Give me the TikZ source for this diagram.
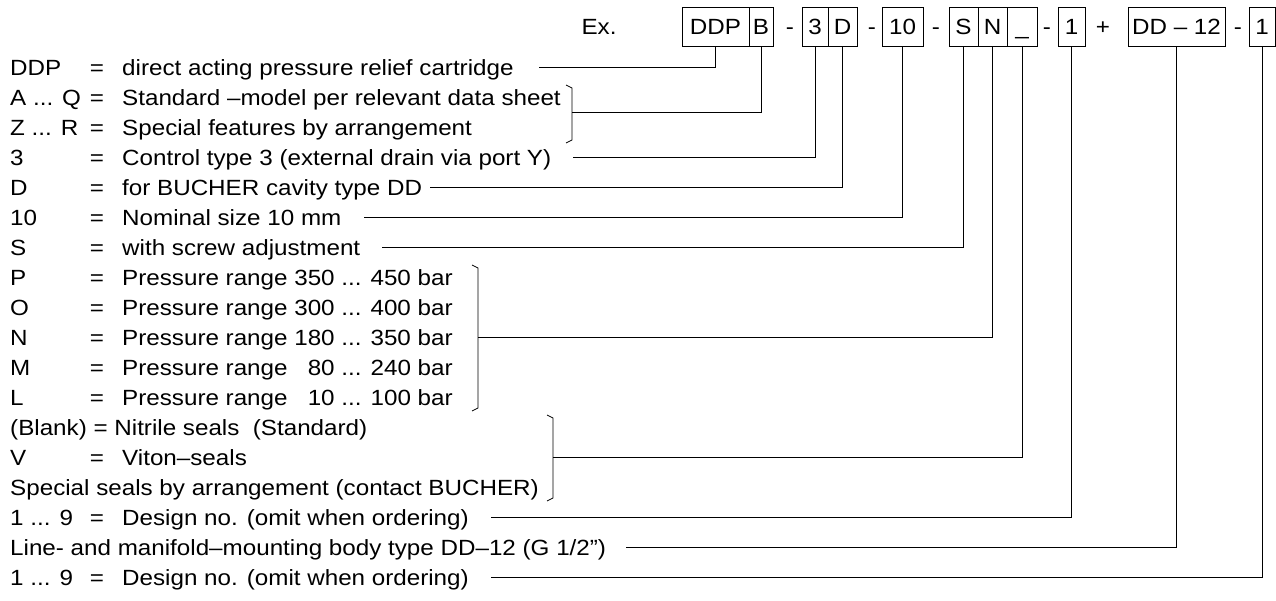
\documentclass[tikz,border=0pt]{standalone}
\usepackage{fontspec}
\setmainfont{Liberation Sans}[FakeStretch=1.1]
\begin{document}
\begin{tikzpicture}[x=1pt, y=-1pt,
		every node/.style={font=\fontsize{22}{26}\selectfont, inner sep=0pt, text height=16pt, text depth=0pt},
		codebox/.style={draw, line width=1pt, minimum height=39pt},
		link/.style={line width=0.8pt}]
		\useasboundingbox (0,0) rectangle (1276,600);

		% type code
		\node (ex) at (599,26.5) {Ex.};
		\node[codebox, minimum width=67pt] (bDDP) at (715.5,26.5) {DDP};
		\node[codebox, minimum width=24pt] (bB) at (761,26.5) {B};
		\node (s1) at (790,26.5) {-};
		\node[codebox, minimum width=26pt] (b3) at (815,26.5) {3};
		\node[codebox, minimum width=29pt] (bD) at (842.5,26.5) {D};
		\node (s2) at (872,26.5) {-};
		\node[codebox, minimum width=41pt] (b10) at (902.5,26.5) {10};
		\node (s3) at (936,26.5) {-};
		\node[codebox, minimum width=29pt] (bS) at (963.5,26.5) {S};
		\node[codebox, minimum width=29pt] (bN) at (992.5,26.5) {N};
		\node[codebox, minimum width=30pt] (bSeal) at (1022,26.5) {\_};
		\node (s4) at (1047,26.5) {-};
		\node[codebox, minimum width=27pt] (bOne) at (1071.5,26.5) {1};
		\node (plus) at (1103,26.5) {+};
		\node[codebox, minimum width=97pt] (bBody) at (1176.5,26.5) {DD – 12};
		\node (s5) at (1238,26.5) {-};
		\node[codebox, minimum width=26pt] (bLast) at (1262,26.5) {1};

		% key
		\node[anchor=west] (kDDP) at (10,67) {DDP};
		\node (eDDP) at (97,67) {=};
		\node[anchor=west] (dDDP) at (122,67) {direct acting pressure relief cartridge};
		\node[anchor=west] (kAQ) at (10,97) {A ... Q};
		\node (eAQ) at (97,97) {=};
		\node[anchor=west] (dAQ) at (122,97) {Standard –model per relevant data sheet};
		\node[anchor=west] (kZR) at (10,127) {Z ... R};
		\node (eZR) at (97,127) {=};
		\node[anchor=west] (dZR) at (122,127) {Special features by arrangement};
		\node[anchor=west] (kCtl) at (10,157) {3};
		\node (eCtl) at (97,157) {=};
		\node[anchor=west] (dCtl) at (122,157) {Control type 3 (external drain via port Y)};
		\node[anchor=west] (kCav) at (10,187) {D};
		\node (eCav) at (97,187) {=};
		\node[anchor=west] (dCav) at (122,187) {for BUCHER cavity type DD};
		\node[anchor=west] (kSize) at (10,217) {10};
		\node (eSize) at (97,217) {=};
		\node[anchor=west] (dSize) at (122,217) {Nominal size 10 mm};
		\node[anchor=west] (kAdj) at (10,247) {S};
		\node (eAdj) at (97,247) {=};
		\node[anchor=west] (dAdj) at (122,247) {with screw adjustment};
		\foreach \k/\lo/\hi [count=\i from 0] in {P/350/450, O/300/400, N/180/350, M/\phantom{1}80/240, L/\phantom{1}10/100} {
			\node[anchor=west] (kP\i) at (10,277+30*\i) {\k};
			\node (eP\i) at (97,277+30*\i) {=};
			\node[anchor=west] (dP\i) at (122,277+30*\i) {Pressure range \lo\ ... \hi\ bar};
		}
		\node[anchor=west] (dBlank) at (10,427) {(Blank) = Nitrile seals\ \ (Standard)};
		\node[anchor=west] (kVit) at (10,457) {V};
		\node (eVit) at (97,457) {=};
		\node[anchor=west] (dVit) at (122,457) {Viton–seals};
		\node[anchor=west] (dSpec) at (10,487) {Special seals by arrangement (contact BUCHER)};
		\node[anchor=west] (kDes) at (10,517) {1 ... 9};
		\node (eDes) at (97,517) {=};
		\node[anchor=west] (dDes) at (122,517) {Design no. (omit when ordering)};
		\node[anchor=west] (dBody) at (10,547) {Line- and manifold–mounting body type DD–12 (G 1/2”)};
		\node[anchor=west] (kDes2) at (10,577) {1 ... 9};
		\node (eDes2) at (97,577) {=};
		\node[anchor=west] (dDes2) at (122,577) {Design no. (omit when ordering)};

		% brackets
		\coordinate (brAQ) at (572,112);
		\draw[link] (566,85) -- (572,88) -- (572,140) -- (566,143);
		\coordinate (brPL) at (478,337);
		\draw[link] (472,265) -- (478,268) -- (478,408) -- (472,411);
		\coordinate (brSeal) at (553,457);
		\draw[link] (547,415) -- (553,418) -- (553,498) -- (547,501);

		% leaders
		\draw[link] (bDDP.south) |- ([xshift=25pt]dDDP.east);
		\draw[link] (bB.south) |- (brAQ);
		\draw[link] (b3.south) |- ([xshift=22pt]dCtl.east);
		\draw[link] (bD.south) |- ([xshift=8pt]dCav.east);
		\draw[link] (b10.south) |- ([xshift=22pt]dSize.east);
		\draw[link] (bS.south) |- ([xshift=22pt]dAdj.east);
		\draw[link] (bN.south) |- (brPL);
		\draw[link] (bSeal.south) |- (brSeal);
		\draw[link] (bOne.south) |- ([xshift=22pt]dDes.east);
		\draw[link] (bBody.south) |- ([xshift=20pt]dBody.east);
		\draw[link] (bLast.south) |- ([xshift=22pt]dDes2.east);
	\end{tikzpicture}
\end{document}
